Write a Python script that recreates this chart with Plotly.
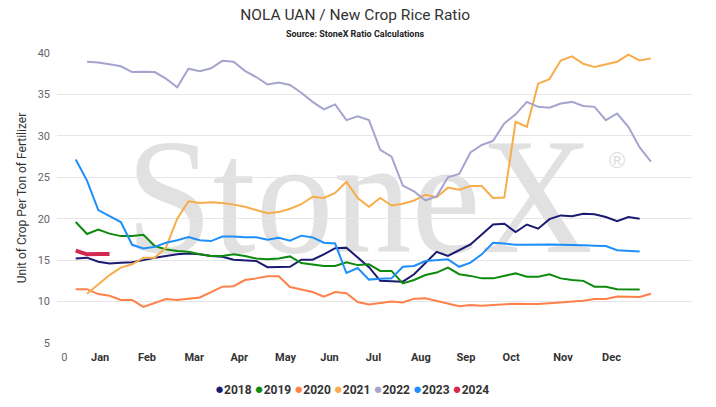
import base64

import plotly.graph_objects as go

# weekly ratio readings, week 1 = first week of January
years = ["2018", "2019", "2020", "2021", "2022", "2023", "2024"]
colors = ["#1a1a72", "#0e8a0e", "#ff8049", "#f8ad4b", "#a4a4cf", "#1e8ffa", "#d42a50"]
start_week = [1, 1, 1, 2, 2, 1, 1]

r2018 = [15.2, 15.3, 14.8, 14.6, 14.7, 14.75, 15.0, 15.3, 15.5, 15.7,
         15.8, 15.7, 15.5, 15.4, 15.05, 14.95, 14.9, 14.15, 14.15, 14.2,
         15.05, 15.05, 15.7, 16.45, 16.5, 15.3, 14.15, 12.5, 12.45, 12.4,
         13.3, 14.6, 16.0, 15.5, 16.2, 16.9, 18.1, 19.3, 19.4, 18.4,
         19.3, 18.8, 19.95, 20.4, 20.3, 20.6, 20.55, 20.2, 19.7, 20.2, 20.0]
r2019 = [19.6, 18.15, 18.7, 18.2, 17.9, 17.9, 18.05, 16.7, 16.3, 16.1,
         16.0, 15.7, 15.5, 15.5, 15.7, 15.5, 15.2, 15.1, 15.2, 15.45,
         14.65, 14.45, 14.3, 14.3, 14.75, 14.4, 14.5, 13.7, 13.7, 12.2,
         12.6, 13.2, 13.5, 14.1, 13.3, 13.1, 12.8, 12.8, 13.1, 13.4,
         13.0, 13.0, 13.3, 12.8, 12.6, 12.5, 11.8, 11.8, 11.5, 11.45, 11.45]
r2020 = [11.5, 11.5, 10.9, 10.7, 10.2, 10.2, 9.35, 9.85, 10.3, 10.2,
         10.35, 10.5, 11.15, 11.8, 11.85, 12.6, 12.8, 13.05, 13.05, 11.75,
         11.45, 11.15, 10.6, 11.15, 11.0, 9.95, 9.65, 9.8, 10.0, 9.9,
         10.35, 10.4, 10.1, 9.8, 9.45, 9.6, 9.5, 9.6, 9.7, 9.75,
         9.7, 9.7, 9.8, 9.9, 10.0, 10.1, 10.3, 10.3, 10.6, 10.55, 10.55, 10.95]
r2021 = [10.95, 12.1, 13.2, 14.1, 14.5, 15.3, 15.3, 16.5, 20.0, 22.1,
         21.9, 22.0, 21.9, 21.7, 21.45, 21.05, 20.65, 20.8, 21.2, 21.75,
         22.65, 22.5, 23.1, 24.45, 22.5, 21.45, 22.5, 21.6, 21.8, 22.2,
         22.9, 22.6, 23.75, 23.5, 23.95, 23.95, 22.5, 22.55, 31.7, 31.1,
         36.3, 36.85, 39.1, 39.6, 38.7, 38.3, 38.6, 38.95, 39.8, 39.1, 39.35]
r2022 = [38.95, 38.85, 38.65, 38.4, 37.7, 37.75, 37.7, 36.9, 35.85, 38.1,
         37.8, 38.15, 39.05, 38.95, 37.85, 37.1, 36.2, 36.45, 36.15, 35.2,
         34.1, 33.2, 33.8, 31.9, 32.35, 31.9, 28.3, 27.5, 24.0, 23.3,
         22.2, 22.7, 25.0, 25.4, 28.0, 28.9, 29.4, 31.5, 32.6, 34.1,
         33.5, 33.4, 33.9, 34.1, 33.6, 33.5, 31.9, 32.7, 31.1, 28.6, 26.9]
r2023 = [27.15, 24.6, 21.05, 20.35, 19.6, 16.85, 16.4, 16.6, 17.1, 17.4,
         17.8, 17.4, 17.3, 17.85, 17.85, 17.75, 17.75, 17.45, 17.7, 17.35,
         17.95, 17.75, 17.1, 17.0, 13.45, 14.05, 12.65, 12.75, 12.8, 14.2,
         14.3, 14.9, 15.0, 15.1, 14.2, 14.7, 15.7, 17.1, 17.0, 16.85,
         16.85, 16.9, 16.9, 16.85, 16.85, 16.8, 16.75, 16.7, 16.2, 16.1, 16.05]
r2024 = [16.15, 15.7, 15.75, 15.75]

series = [r2018, r2019, r2020, r2021, r2022, r2023, r2024]

month_labels = ["Jan", "Feb", "Mar", "Apr", "May", "Jun",
                "Jul", "Aug", "Sep", "Oct", "Nov", "Dec"]
month_weeks = [3.16, 7.32, 11.5, 15.5, 19.6, 23.5, 27.4, 31.6, 35.6, 39.6, 44.2, 48.5]

FONT = "Roboto, 'Open Sans', Arial, sans-serif"

fig = go.Figure()

for name, color, start, vals in zip(years, colors, start_week, series):
    fig.add_trace(go.Scatter(
        x=list(range(start, start + len(vals))), y=vals,
        mode="lines", name=name,
        line=dict(color=color, width=4 if name == "2024" else 2),
        showlegend=False,
    ))

# StoneX watermark behind the lines
svg = (
    '<svg xmlns="http://www.w3.org/2000/svg" width="635" height="290" viewBox="0 0 635 290">'
    '<text x="69" y="199" font-family="Liberation Serif, serif" font-size="166" fill="#e1e1e1" '
    'textLength="467" lengthAdjust="spacingAndGlyphs">StoneX</text>'
    '<text x="560" y="115" font-family="Liberation Sans, sans-serif" font-size="22" fill="#dcdcdc" '
    'text-anchor="middle">&#174;</text></svg>'
)
fig.add_layout_image(
    source="data:image/svg+xml;base64," + base64.b64encode(svg.encode()).decode(),
    xref="paper", yref="paper", x=0, y=1, sizex=1, sizey=1,
    xanchor="left", yanchor="top", sizing="stretch", layer="below",
)

legend_text = "&nbsp;".join(
    f'<span style="color:{c};font-size:15px">●</span><b>{y}</b>' for y, c in zip(years, colors)
)

fig.update_layout(
    width=716, height=407, autosize=False,
    margin=dict(l=57, r=24, t=53, b=64),
    paper_bgcolor="white", plot_bgcolor="rgba(0,0,0,0)",
    font=dict(family=FONT, color="#333"),
    title=dict(text="NOLA UAN / New Crop Rice Ratio", x=0.496, xanchor="center",
               y=0.963, yanchor="middle", font=dict(size=15.5, color="#333")),
    annotations=[
        dict(text="<b>Source: StoneX Ratio Calculations</b>", xref="paper", yref="paper",
             x=0.469, y=1.0655, xanchor="center", yanchor="middle", showarrow=False,
             font=dict(size=9, color="#222")),
        dict(text=legend_text, xref="paper", yref="paper", x=0.4646, y=-0.159,
             xanchor="center", yanchor="middle", showarrow=False,
             font=dict(size=12, color="#333")),
    ],
    xaxis=dict(
        range=[-0.66, 55.64], showgrid=False, zeroline=False, showline=False,
        tickvals=[0] + month_weeks,
        ticktext=['<span style="color:#666">0</span>'] + [f"<b>{m}</b>" for m in month_labels],
        tickfont=dict(size=11, color="#333"), ticks="", ticklabelstandoff=6,
    ),
    yaxis=dict(
        range=[5, 40], tickvals=list(range(5, 41, 5)), gridcolor="#e6e6e6", gridwidth=1,
        zeroline=False, showline=False, ticks="",
        tickfont=dict(size=11, color="#666"), ticklabelstandoff=6,
        title=dict(text="Unit of Crop Per Ton of Fertilizer", font=dict(size=12, color="#333"),
                   standoff=8),
        automargin=False,
    ),
)

# the page's default body margin would push the chart 8px down and right
fig.write_html("out.html", config={"displayModeBar": False},
               post_script="document.body.style.margin = '0';")
